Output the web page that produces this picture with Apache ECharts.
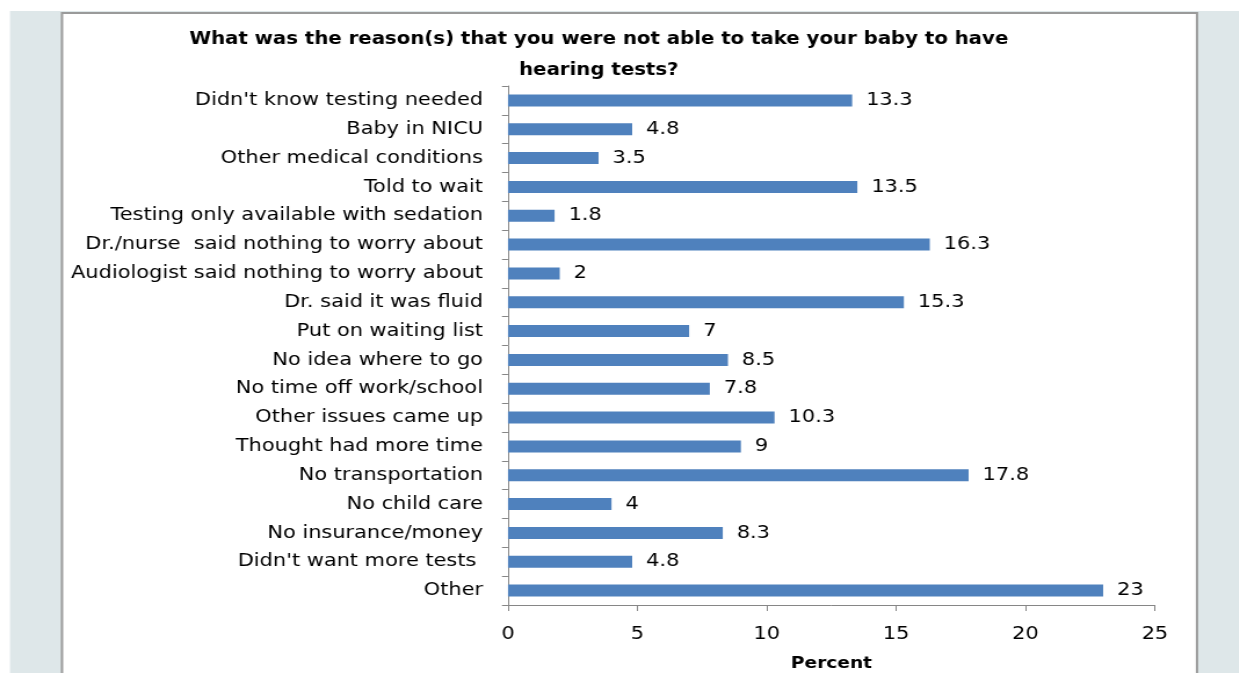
<!DOCTYPE html>
<html>
<head>
<meta charset="utf-8">
<style>
  html, body { margin: 0; padding: 0; background: #ffffff; overflow: hidden; }
  /* the chart is laid out narrower and widened horizontally to give the stretched lettering */
  #chart { width: 1068px; height: 673px; transform: scaleX(1.16); transform-origin: 0 0; }
</style>
<script src="https://cdn.jsdelivr.net/npm/echarts@6/dist/echarts.min.js"></script>
</head>
<body>
<div id="chart"></div>
<script>
// Reasons given for not taking the baby for hearing tests (percent of respondents)
const categories = [
  "Didn't know testing needed",
  "Baby in NICU",
  "Other medical conditions",
  "Told to wait",
  "Testing only available with sedation",
  "Dr./nurse  said nothing to worry about",
  "Audiologist said nothing to worry about",
  "Dr. said it was fluid",
  "Put on waiting list",
  "No idea where to go",
  "No time off work/school",
  "Other issues came up",
  "Thought had more time",
  "No transportation",
  "No child care",
  "No insurance/money",
  "Didn't want more tests ",
  "Other"
];
const percents = [13.3, 4.8, 3.5, 13.5, 1.8, 16.3, 2, 15.3, 7, 8.5, 7.8, 10.3, 9, 17.8, 4, 8.3, 4.8, 23];
const xTicks = { min: 0, max: 25, interval: 5 };
const titleLines = [
  "What was the reason(s) that you were not able to take your baby to have",
  "hearing tests?"
];

const FONT = "'DejaVu Sans', Verdana, sans-serif";
const SX = 1.16;              // horizontal stretch applied by CSS
const px = v => v / SX;       // page x-distance -> chart x-distance
const chart = echarts.init(document.getElementById('chart'), null, { renderer: 'canvas', width: 1068, height: 673 });

chart.setOption({
  animation: false,
  backgroundColor: '#ffffff',
  graphic: [
    // frame around the chart panel
    { type: 'rect', z: -10, shape: { x: px(10), y: 11, width: px(1229), height: 662 }, style: { fill: '#dee7e9' } },
    { type: 'rect', z: -9, shape: { x: px(62), y: 13, width: px(1135), height: 670 },
      style: { fill: '#ffffff', stroke: '#9a9a9a', lineWidth: 2 } }
  ],
  title: {
    text: titleLines.join('\n'),
    left: px(593),
    top: 19,
    textAlign: 'center',
    textStyle: { fontFamily: FONT, fontSize: 17, fontWeight: 'bold', color: '#000000', lineHeight: 31 }
  },
  grid: { left: px(508), right: px(84), top: 86, bottom: 68, containLabel: false, outerBoundsMode: 'none' },
  xAxis: {
    type: 'value',
    min: xTicks.min, max: xTicks.max, interval: xTicks.interval,
    name: 'Percent',
    nameLocation: 'middle',
    nameGap: 51,
    nameTextStyle: { fontFamily: FONT, fontSize: 16, fontWeight: 'bold', color: '#000000' },
    axisLine: { show: true, lineStyle: { color: '#868686', width: 1 } },
    axisTick: { show: true, length: 6, lineStyle: { color: '#868686' } },
    splitLine: { show: false },
    axisLabel: { fontFamily: FONT, fontSize: 18, color: '#000000', margin: 20 }
  },
  yAxis: {
    type: 'category',
    data: categories,
    inverse: true,
    axisLine: { show: true, lineStyle: { color: '#868686', width: 1 } },
    axisTick: { show: true, length: px(6), alignWithLabel: false, lineStyle: { color: '#868686' } },
    axisLabel: { fontFamily: FONT, fontSize: 18, color: '#000000', margin: px(25) }
  },
  series: [{
    type: 'bar',
    data: percents,
    barWidth: 12,
    itemStyle: { color: '#4f81bd' },
    label: {
      show: true,
      position: 'right',
      distance: px(14),
      fontFamily: FONT,
      fontSize: 18,
      color: '#000000'
    }
  }]
});
</script>
</body>
</html>
